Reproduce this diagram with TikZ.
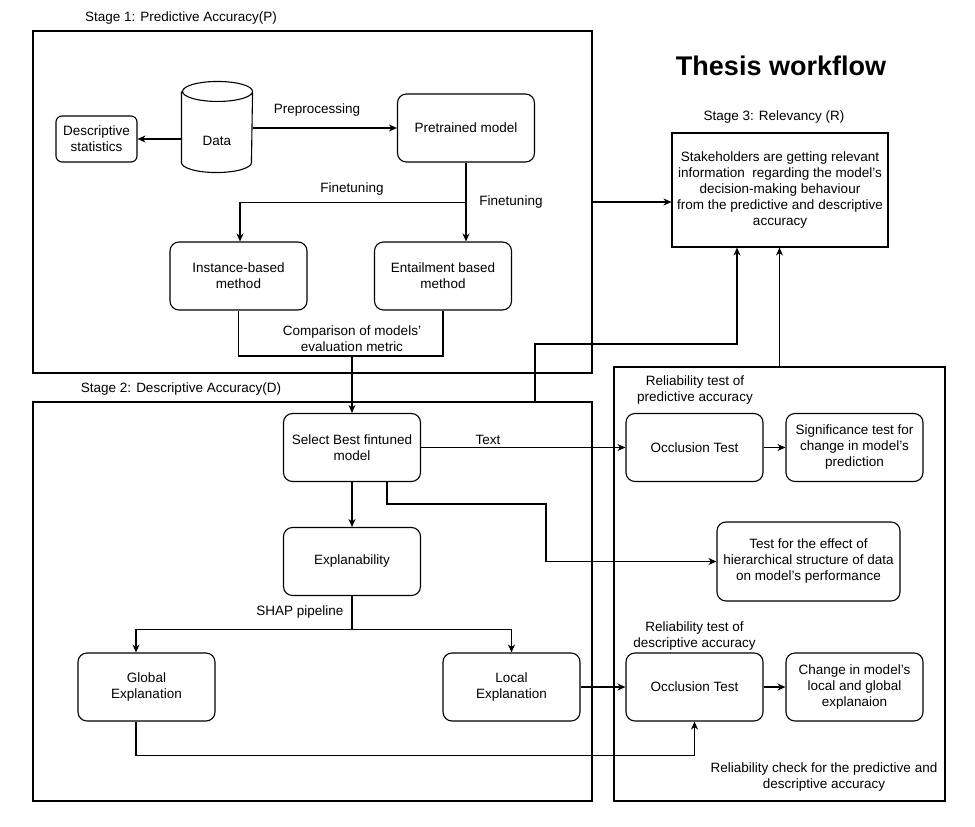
\documentclass[tikz,border=0pt]{standalone}
\usepackage{fontspec}
\setmainfont{Liberation Sans}
\usetikzlibrary{shapes,arrows,arrows.meta}
\tikzstyle{block} = [rectangle, draw, align=center, rounded corners=9pt,
    minimum width=137pt, minimum height=68pt, inner sep=2pt]
\tikzstyle{smallblock} = [rectangle, draw, align=center, rounded corners=6pt,
    minimum width=81pt, minimum height=46pt, inner sep=2pt]
\tikzstyle{frame} = [rectangle, draw, align=center, inner sep=2pt]
\tikzstyle{note} = [align=center, inner sep=1pt]
\tikzstyle{line} = [draw, -{Stealth[length=8pt,width=7pt,inset=2.5pt]}]

\begin{document}
\begin{tikzpicture}[x=1pt, y=-1pt, line width=1.1pt, font=\fontsize{13.5}{16}\selectfont]
		\useasboundingbox (0,0) rectangle (975,827);
		% stages
		\node [frame, minimum width=559pt, minimum height=342pt] (s1) at (312.5,202) {};
		\node [frame, minimum width=559pt, minimum height=399pt] (s2) at (312.5,601.5) {};
		\node [frame, minimum width=331pt, minimum height=434pt] (rel) at (779.5,584) {};
		\node [note] (s1lab) at (181,18) {Stage 1: Predictive Accuracy(P)};
		\node [note] (s2lab) at (181,389) {Stage 2: Descriptive Accuracy(D)};
		\node [note, font=\fontsize{27}{32}\selectfont\bfseries] (title) at (781,66) {Thesis workflow};
		\node [note] (s3lab) at (774,117) {Stage 3: Relevancy (R)};
		\node [frame, minimum width=216pt, minimum height=114pt] (stake) at (780,190)
			{Stakeholders are getting relevant\\information\ \ regarding the model's\\decision-making behaviour\\from the predictive and descriptive\\accuracy};
		
		% stage 1
		\node [minimum width=70pt, minimum height=90pt] (data) at (217,127) {};
		\draw ([yshift=-10pt]data.north west) -- ([yshift=10pt]data.south west)
			arc [start angle=180, end angle=360, x radius=35pt, y radius=10pt]
			-- ([yshift=-10pt]data.north east)
			arc [start angle=0, end angle=180, x radius=35pt, y radius=10pt]
			arc [start angle=180, end angle=360, x radius=35pt, y radius=10pt];
		\node [note] (datatxt) at (217,141) {Data};
		\node [smallblock] (desc) at (96.5,139) {Descriptive\\statistics};
		\node [block] (pre) at (466,128) {Pretrained model};
		\node [block] (inst) at (238.5,276) {Instance-based\\method};
		\node [block] (ent) at (443,276) {Entailment based\\method};
		\node [note] (prep) at (317,110) {Preprocessing};
		\node [note] (ft1) at (352,189) {Finetuning};
		\node [note] (ft2) at (511,202) {Finetuning};
		\node [note] (cmplab) at (352,339) {Comparison of models'\\evaluation metric};
		
		% stage 2
		\node [block] (best) at (352,447.5) {Select Best fintuned\\model};
		\node [block] (expl) at (352,561.5) {Explanability};
		\node [block] (glob) at (146.5,687) {Global\\Explanation};
		\node [block] (loc) at (511.5,687) {Local\\Explanation};
		\node [note] (txt) at (488,440) {Text};
		\node [note] (shaplab) at (300,612) {SHAP pipeline};
		
		% reliability
		\node [note] (relp) at (695,390) {Reliability test of\\predictive accuracy};
		\node [block] (occ1) at (694.5,447.5) {Occlusion Test};
		\node [block] (sig) at (854.5,447.5) {Significance test for\\change in model's\\prediction};
		\node [block, minimum width=183pt, minimum height=79pt] (hier) at (808.5,561.5)
			{Test for the effect of\\hierarchical structure of data\\on model's performance};
		\node [note] (reld) at (694.5,636) {Reliability test of\\descriptive accuracy};
		\node [block] (occ2) at (694.5,687) {Occlusion Test};
		\node [block] (chg) at (854.5,687) {Change in model's\\local and global\\explanaion};
		\node [note] (relc) at (824,777) {Reliability check for the predictive and\\descriptive accuracy};
		
		\coordinate (cmp) at (352,356);
		\coordinate (hb) at (546,504);
		\coordinate (up) at (737,344);
		
		\path [line] (data.west |- desc.east) -- (desc.east);
		\path [line] (data.east |- pre.west) -- (pre.west);
		\path [line] (pre.south) -- (pre.south |- ent.north);
		\path [line] (pre.south) -- ++(0,40) -| ([xshift=1.5pt]inst.north);
		\draw (inst.south) |- (cmp) -| (ent.south);
		\path [line] (cmp) -- (best.north);
		\path [line] (best.east) -- (occ1.west);
		\path [line] ([xshift=35pt]best.south) |- (hb) |- (hier.west);
		\path [line] (best.south) -- (expl.north);
		\draw (expl.south) -- ++(0,33) coordinate (shap);
		\path [line] (shap) -| ([xshift=-10.5pt]glob.north);
		\path [line] (shap) -| (loc.north);
		\path [line] ([xshift=-10.5pt]glob.south) -- ++(0,34) -| (occ2.south);
		\path [line] (loc.east) -- (occ2.west);
		\path [line] (occ1.east) -- (sig.west);
		\path [line] (occ2.east) -- (chg.west);
		\path [line] ([yshift=-12pt]stake.west -| s1.east) -- ([yshift=-12pt]stake.west);
		\path [line] ([xshift=222.5pt]s2.north) |- (up) -- (up |- stake.south);
		\path [line] (rel.north) -- (rel.north |- stake.south);
	\end{tikzpicture}
\end{document}
